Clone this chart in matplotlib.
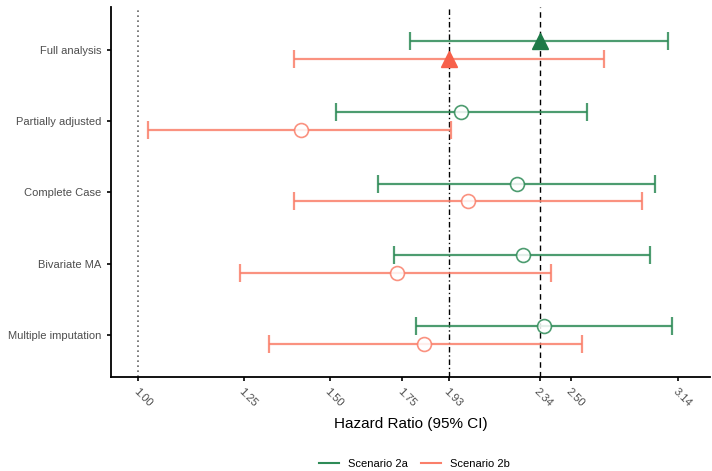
import matplotlib
matplotlib.use("Agg")
import matplotlib.pyplot as plt
from matplotlib.lines import Line2D
import numpy as np

plt.rcParams["font.family"] = ["Liberation Sans", "DejaVu Sans"]

# Forest plot data (hazard ratios with 95% CI)
analyses = ["Full analysis", "Partially adjusted", "Complete Case", "Bivariate MA", "Multiple imputation"]

hr_2a = [2.34, 1.98, 2.23, 2.26, 2.36]
lo_2a = [1.78, 1.52, 1.66, 1.72, 1.80]
hi_2a = [3.07, 2.59, 2.99, 2.96, 3.10]

hr_2b = [1.93, 1.41, 2.01, 1.73, 1.83]
lo_2b = [1.39, 1.02, 1.39, 1.24, 1.32]
hi_2b = [2.68, 1.94, 2.91, 2.40, 2.56]

x_ticks = [1.00, 1.25, 1.50, 1.75, 1.93, 2.34, 2.50, 3.14]

col_2a = "#2e8b57"
col_2b = "#fa7f6a"
fill_2a = "#1e7a48"
fill_2b = "#f7604a"

fig = plt.figure(figsize=(7.12, 4.71), dpi=100)
ax = fig.add_axes([0.1555, 0.2, 0.842, 0.785])

ypos = np.arange(len(analyses), 0, -1).astype(float)
offset = 0.125

ax.axvline(1.00, color="#666666", linestyle=(0, (1, 2)), linewidth=1.2, zorder=1)
ax.axvline(1.93, color="black", linestyle=(0, (4, 2, 1, 2)), linewidth=1.0, zorder=1)
ax.axvline(2.34, color="black", linestyle=(0, (4, 3)), linewidth=1.0, zorder=1)

for hr, lo, hi, dy, col, fill in [
    (hr_2a, lo_2a, hi_2a, offset, col_2a, fill_2a),
    (hr_2b, lo_2b, hi_2b, -offset, col_2b, fill_2b),
]:
    hr = np.array(hr)
    y = ypos + dy
    ax.errorbar(hr, y, xerr=[hr - np.array(lo), np.array(hi) - hr], fmt="none",
                ecolor=col, elinewidth=1.6, capsize=6.5, capthick=1.6, alpha=0.85, zorder=2)
    # first row (full analysis) filled triangle, rest open circles
    ax.plot(hr[:1], y[:1], marker="^", markersize=11, color=fill, linestyle="none", zorder=3)
    ax.plot(hr[1:], y[1:], marker="o", markersize=10, markerfacecolor="white",
            markeredgecolor=col, markeredgewidth=1.2, alpha=0.85, linestyle="none", zorder=3)

ax.set_xscale("log")
ax.set_xlim(0.943, 3.36)
ax.set_ylim(0.415, 5.6)
ax.set_xticks(x_ticks)
ax.set_xticklabels([f"{v:.2f}" for v in x_ticks], rotation=-45, ha="left", va="top",
                   rotation_mode="anchor", color="#4d4d4d", fontsize=8)
ax.xaxis.set_minor_locator(matplotlib.ticker.NullLocator())
ax.set_yticks(ypos)
ax.set_yticklabels(analyses, color="#4d4d4d", fontsize=8)
ax.tick_params(axis="both", length=3, width=1.2, color="black")
ax.tick_params(axis="x", pad=4)

for s in ["top", "right"]:
    ax.spines[s].set_visible(False)
for s in ["left", "bottom"]:
    ax.spines[s].set_linewidth(1.3)

ax.set_xlabel("Hazard Ratio (95% CI)", fontsize=11, labelpad=6)

handles = [Line2D([0], [0], color=col_2a, lw=1.5), Line2D([0], [0], color=col_2b, lw=1.5)]
fig.legend(handles, ["Scenario 2a", "Scenario 2b"], loc="center", bbox_to_anchor=(0.582, 0.015),
           ncol=2, frameon=False, fontsize=8, handlelength=1.8, columnspacing=1.2)

plt.savefig("out.png", dpi=100)
plt.close()
